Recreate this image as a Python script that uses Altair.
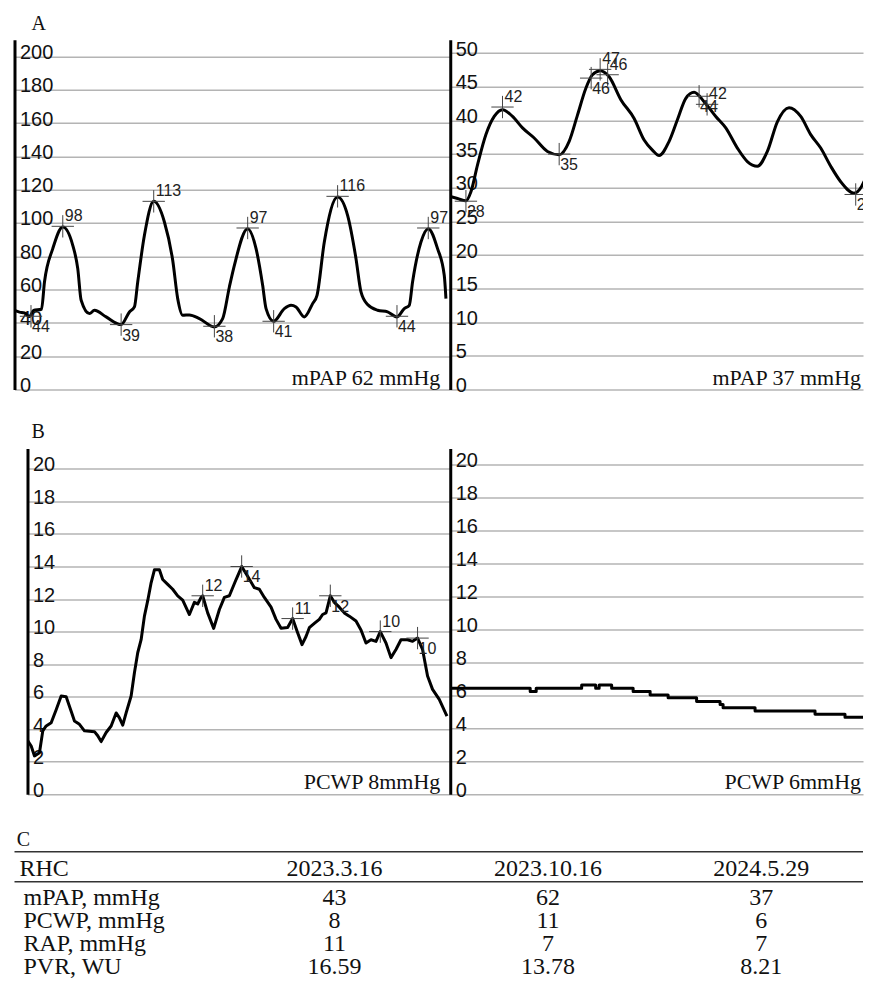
import altair as alt
import pandas as pd

# ---------------- Panel A (left): PAP trace 2023.10.16 ----------------
a1_t = [0, 5, 10, 15, 19, 27, 30, 38.3, 48.3, 58.3, 63.3, 66.7, 75, 80, 91.7, 106.7, 115, 120, 123.3,
        130, 139.3, 150, 158.3, 163.3, 168.3, 175, 185, 200, 208.3, 215, 220, 233.3, 241.7, 248.3,
        251.7, 259.3, 270, 276.7, 281.7, 290, 298.3, 302.7, 310, 323.3, 333.3, 341.7, 346.7, 353.3,
        363.3, 373.3, 382.7, 390, 395, 398.3, 406.7, 414, 423.3, 430, 431.7]
a1_v = [47.5, 46.5, 46, 43.8, 47.5, 48.2, 64.6, 84.6, 97.6, 86.6, 72.6, 53.6, 45.6, 47.6, 43.6, 39,
        46.6, 49.6, 64.6, 92.6, 113, 100.6, 77.6, 54.6, 44.6, 44.8, 42.6, 37.6, 42.6, 61.6, 74.6,
        96.6, 84.6, 62.6, 48.6, 41, 48.6, 50.6, 49.6, 43.6, 51.6, 56.6, 88.6, 115.6, 104.6, 78.6,
        58.6, 51, 47.6, 46.6, 43.6, 48.6, 50.6, 64.6, 88.6, 96.6, 84.6, 68.6, 54.6]
a1_mark_t = [16.5, 48.3, 106.7, 139.3, 200, 233.3, 259.3, 323.3, 382.7, 414]
a1_mark_v = [44, 98, 39, 113, 38, 97, 41, 116, 44, 97]
a1_mark_lab = ["44", "98", "39", "113", "38", "97", "41", "116", "44", "97"]
a1_mark_side = ["down", "up", "down", "up", "down", "up", "down", "up", "down", "up"]

# ---------------- Panel A (right): PAP trace 2024.5.29 ----------------
a2_t = [0, 7.3, 15.7, 20.7, 27.3, 35.7, 44, 52.3, 62.3, 72.3, 84, 97.3, 109, 119, 127.3, 135.7,
        142.3, 150, 159, 170.7, 184, 194, 202.3, 209, 219, 227.3, 235.7, 244, 254, 265.7, 275.7,
        287.3, 297.3, 307.3, 317.3, 327.3, 339, 350.7, 360.7, 370.7, 380.7, 390.7, 404, 414, 420.7]
a2_v = [28.7, 28.4, 28.05, 29.4, 33.4, 37.9, 40.6, 41.6, 40.6, 38.9, 37.4, 35.4, 34.9, 36.9, 40.8,
        44.8, 46.8, 47.4, 46.5, 43.1, 40.3, 37.1, 35.6, 34.8, 36.9, 40.1, 43.3, 44.2, 42.8, 40.6,
        38.9, 35.9, 33.9, 33.2, 35.4, 39.8, 41.9, 40.6, 37.9, 35.9, 33.2, 30.9, 29.2, 30.9, 34.9]
a2_mark_t = [15.7, 52.3, 109, 141, 150, 157.5, 249, 257, 405.7]
a2_mark_v = [28, 42, 35, 46.3, 47.6, 46.8, 43.6, 42.4, 29]
a2_mark_lab = ["28", "42", "35", "46", "47", "46", "44", "42", "29"]
a2_mark_side = ["down", "up", "down", "down", "up", "up", "down", "up", "down"]

# ---------------- Panel B (left): PCWP trace 2023.3.16 ----------------
b1_t = [0.3, 3.7, 7, 12, 15.3, 18.7, 23.7, 28.7, 33.7, 38.7, 43.7, 47, 52, 57, 67, 70.3, 73.7,
        78.7, 83.7, 88.7, 92, 95.3, 98.7, 103.7, 107, 110.3, 113.7, 117, 120.3, 123.7, 127, 132,
        135.3, 140.3, 145.3, 150.3, 155.3, 162, 167, 170.3, 173.7, 175.3, 180.3, 186.3, 192, 197,
        202, 208.7, 213.7, 214.3, 220.3, 227, 232, 237, 243.7, 248.7, 253.7, 260.3, 265.3, 270.3,
        274.7, 278.7, 282, 287, 292, 295.3, 298.7, 303, 307, 312, 317, 322, 328.7, 333.7, 338.7,
        343.7, 348.7, 353, 358.7, 363.7, 368.7, 373.7, 380.3, 385.3, 390.3, 395.3, 400.3, 405.3,
        412, 419.7]
b1_v = [3.28, 2.97, 2.36, 2.56, 3.9, 4.2, 4.4, 5.2, 6.04, 6.0, 5.1, 4.5, 4.3, 3.9, 3.85, 3.6,
        3.24, 3.8, 4.2, 5.0, 4.7, 4.25, 5.0, 6.04, 7.47, 8.7, 9.5, 10.95, 11.9, 13.0, 13.8, 13.8,
        13.2, 12.9, 12.6, 12.2, 11.94, 11.05, 11.8, 11.7, 12.1, 12.2, 11.15, 10.2, 11.36, 12.1,
        12.2, 13.2, 13.9, 14.0, 13.4, 12.7, 12.6, 12.1, 11.5, 10.75, 10.2, 10.25, 10.8, 9.93, 9.2,
        9.7, 10.24, 10.5, 10.75, 11.05, 11.15, 12.2, 11.8, 11.5, 11.15, 10.95, 10.65, 10.1, 9.3,
        9.5, 9.4, 10.0, 9.3, 8.4, 8.9, 9.5, 9.5, 9.4, 9.6, 8.9, 7.27, 6.45, 5.83, 4.81]
b1_mark_t = [175.3, 214.3, 265.3, 303, 353, 390.3]
b1_mark_v = [12.2, 14, 10.8, 12.2, 10, 9.6]
b1_mark_lab = ["12", "14", "11", "12", "10", "10"]
b1_mark_side = ["up", "down", "up", "down", "up", "down"]

# ---------------- Panel B (right): PCWP trace 2024.5.29 ----------------
b2_t = [0, 80, 86, 131.5, 145.5, 149, 161.5, 183, 200, 218, 246.5, 270, 273, 305, 365, 395, 420]
b2_v = [6.44, 6.24, 6.44, 6.64, 6.44, 6.64, 6.44, 6.24, 6.03, 5.87, 5.63, 5.46, 5.26, 5.06, 4.86,
        4.68, 4.68]

# ---------------- Table C ----------------
tbl_header = ["RHC", "2023.3.16", "2023.10.16", "2024.5.29"]
tbl_rows = ["mPAP, mmHg", "PCWP, mmHg", "RAP, mmHg", "PVR, WU"]
tbl_2023_3 = ["43", "8", "11", "16.59"]
tbl_2023_10 = ["62", "11", "7", "13.78"]
tbl_2024_5 = ["37", "6", "7", "8.21"]

CROSS = "M-1,0H1M0,-1V1"
SANS = "Liberation Sans"
SERIF = "Liberation Serif"


def panel(t, v, mt, mv, mlab, mside, ydom, yvals, W, H, caption, interp, cap_dx):
    df = pd.DataFrame({"t": t, "v": v})
    xs = alt.X("t:Q", scale=alt.Scale(domain=[0, W], nice=False, zero=False), axis=None)
    ys = alt.Y("v:Q", scale=alt.Scale(domain=ydom, nice=False, zero=False),
               axis=alt.Axis(values=yvals, grid=True, title=None, labelOverlap=False,
                             tickCount=len(yvals)))
    layers = [
        alt.Chart(df).mark_line(color="black", strokeWidth=3, interpolate=interp,
                                strokeJoin="round", clip=True).encode(x=xs, y=ys)
    ]
    if mt:
        mdf = pd.DataFrame({"t": mt, "v": mv, "lab": mlab, "side": mside})
        base = alt.Chart(mdf).encode(x=xs, y=ys)
        layers.append(base.mark_point(shape=CROSS, size=500, filled=False,
                                      stroke="#444", strokeWidth=1, opacity=1, clip=True))
        layers.append(base.transform_filter(alt.datum.side == "up").mark_text(
            align="left", baseline="alphabetic", dx=2, dy=-5, font=SANS, fontSize=16,
            color="#222", clip=True).encode(text="lab:N"))
        layers.append(base.transform_filter(alt.datum.side == "down").mark_text(
            align="left", baseline="top", dx=1, dy=3, font=SANS, fontSize=16,
            color="#222", clip=True).encode(text="lab:N"))
    cap = pd.DataFrame({"t": [W], "v": [0], "lab": [caption]})
    layers.append(alt.Chart(cap).mark_text(align="right", baseline="alphabetic", dx=cap_dx,
                                           dy=-5, font=SERIF, fontSize=22,
                                           color="#111").encode(x=xs, y=ys, text="lab:N"))
    return alt.layer(*layers).properties(width=W, height=H)


pA1 = panel(a1_t, a1_v, a1_mark_t, a1_mark_v, a1_mark_lab, a1_mark_side,
            [0, 210], list(range(0, 201, 20)), 436, 350, "mPAP 62 mmHg", "monotone", -10)
pA2 = panel(a2_t, a2_v, a2_mark_t, a2_mark_v, a2_mark_lab, a2_mark_side,
            [0, 52], list(range(0, 51, 5)), 413, 350, "mPAP 37 mmHg", "monotone", -2)
pB1 = panel(b1_t, b1_v, b1_mark_t, b1_mark_v, b1_mark_lab, b1_mark_side,
            [0, 21.25], list(range(0, 21, 2)), 423, 346, "PCWP 8mmHg", "linear", -10)
pB2 = panel(b2_t, b2_v, [], [], [], [], [0, 21], list(range(0, 21, 2)), 413, 346,
            "PCWP 6mmHg", "step-after", -2)

spacer = alt.Chart(pd.DataFrame({"a": [0]})).mark_point(opacity=0).encode(
    x=alt.X("a:Q", axis=None), y=alt.Y("a:Q", axis=None)).properties(width=13, height=346)


def ttl(s, off, dx=17):
    return alt.TitleParams(s, anchor="start", font=SERIF, fontSize=20, fontWeight="normal",
                           color="#111", dx=dx, offset=off)


rowA = alt.hconcat(pA1, pA2, spacing=0, title=ttl("A", 5.5))
rowB = alt.hconcat(spacer, pB1, pB2, spacing=0, title=ttl("B", 7))

# table
recs = []
for c, txt in enumerate(tbl_header):
    recs.append({"r": 0, "c": c, "txt": txt})
for i, (lab, c1, c2, c3) in enumerate(zip(tbl_rows, tbl_2023_3, tbl_2023_10, tbl_2024_5)):
    recs.append({"r": i + 1, "c": 0, "txt": lab})
    for c, txt in enumerate([c1, c2, c3]):
        recs.append({"r": i + 1, "c": c + 1, "txt": txt})
tdf = pd.DataFrame(recs)

tx = alt.X("xc:Q", scale=alt.Scale(domain=[-0.5, 3.4766], nice=False, zero=False), axis=None)
tys = alt.Scale(domain=[-1.0, 4.35], reverse=True, nice=False, zero=False)
ty = alt.Y("r:Q", scale=tys, axis=None)
tbase = alt.Chart(tdf).transform_calculate(xc="datum.c == 0 ? -0.5 : datum.c").encode(
    x=tx, y=ty, text="txt:N")
tstyle = dict(font=SERIF, fontSize=24, color="#111", baseline="middle")
t_vals_body = tbase.transform_filter("datum.c > 0 && datum.r > 0").mark_text(
    align="center", **tstyle)
t_vals_head = tbase.transform_filter("datum.c > 0 && datum.r == 0").mark_text(
    align="center", dy=-6, **tstyle)
t_lab_body = tbase.transform_filter("datum.c == 0 && datum.r > 0").mark_text(
    align="left", dx=9, **tstyle)
t_lab_head = tbase.transform_filter("datum.c == 0 && datum.r == 0").mark_text(
    align="left", dx=5, dy=-6, **tstyle)
rule_df = pd.DataFrame({"r": [-1.0, 0.3]})
t_rules = alt.Chart(rule_df).mark_rule(color="#333", strokeWidth=1.5).encode(y=ty)
table = alt.layer(t_rules, t_vals_body, t_vals_head, t_lab_body, t_lab_head).properties(
    width=849, height=123, title=ttl("C", 1.5, 3))

top = alt.vconcat(rowA, rowB, spacing=26)
chart = alt.vconcat(top, table, spacing=28.5).properties(
    padding={"left": 5.5, "top": 4.5, "right": 0, "bottom": 0}
).configure_view(strokeWidth=0).configure_axis(
    domainColor="black", domainWidth=3, gridColor="#b4b4b4", gridWidth=1.5,
    ticks=False, tickSize=0, labelAlign="left", labelPadding=-5, labelFontSize=20,
    labelFont=SANS, labelColor="#111", labelBaseline="alphabetic", labelOffset=2,
    labelOverlap=False, labelFlush=False
)

chart.save("out.html", embed_options={"renderer": "svg", "actions": False})
